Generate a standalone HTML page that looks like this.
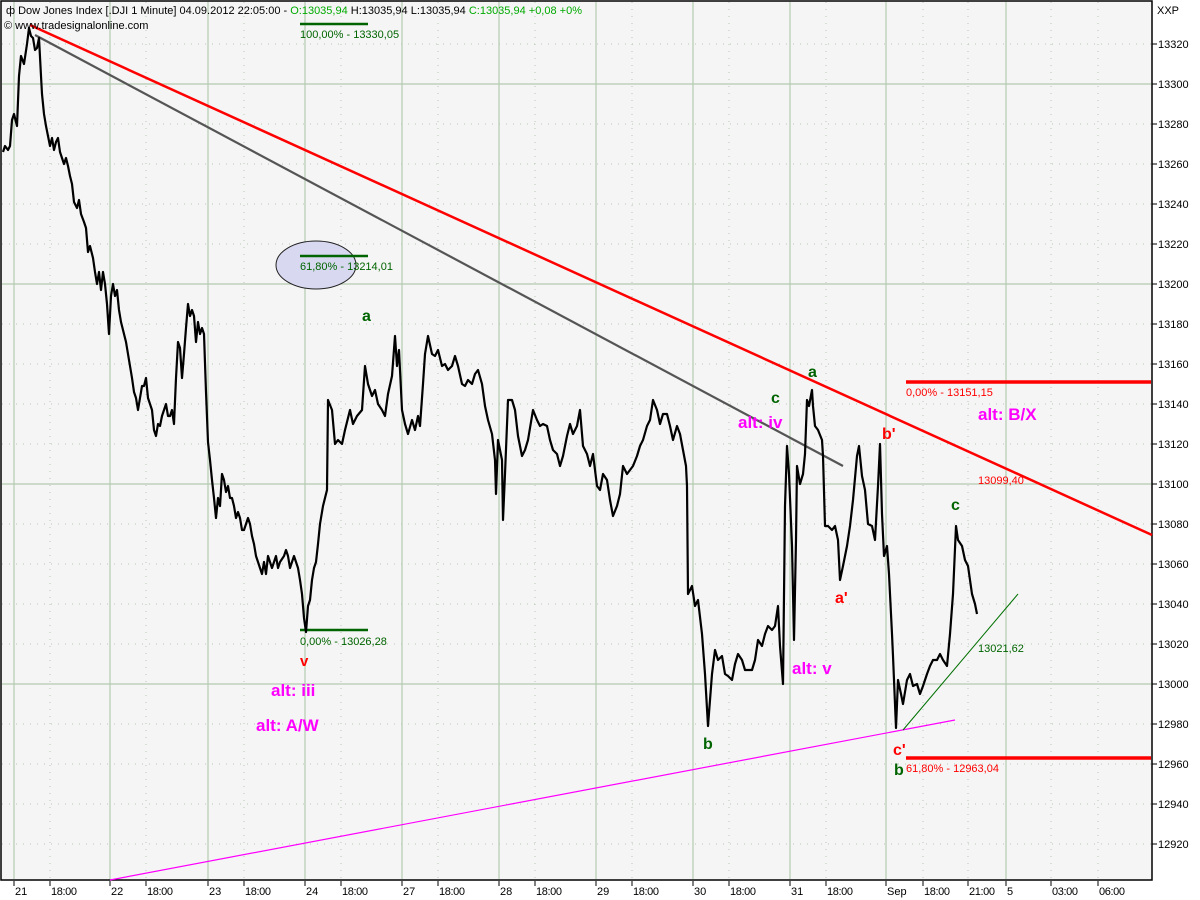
<!DOCTYPE html>
<html><head><meta charset="utf-8"><style>
html,body{margin:0;padding:0;background:#fff;}
svg{display:block;font-family:"Liberation Sans",sans-serif;}
</style></head><body>
<svg id="chart" width="1200" height="900" viewBox="0 0 1200 900" xmlns="http://www.w3.org/2000/svg">
<rect x="1" y="1" width="1151" height="879" fill="#f5f5f5" stroke="#000" stroke-width="1.5"/>
<g id="grid"></g>
<g id="axes"></g>
<g id="annot"></g>
<path id="price" fill="none" stroke="#000" stroke-width="2.2" stroke-linejoin="round"/>
<g id="labels"></g>
<text x="6" y="14" font-size="11">ф Dow Jones Index [.DJI  1 Minute] 04.09.2012 22:05:00 - <tspan fill="#00aa00">O:13035,94</tspan> H:13035,94 L:13035,94 <tspan fill="#00aa00">C:13035,94 +0,08 +0%</tspan></text>
<text x="4" y="29" font-size="11">© www.tradesignalonline.com</text>
<text x="1157" y="14" font-size="11">XXP</text>
</svg>
<script>
const priceTimes=[0,8,20,28,36,44,56,64,72,84,96,104,112,120,128,136,144,152,156,164,172,180,188,196,204,212,220,228,236,244,252,260,268,276,284,296,304,312,324,332,340,348,360,368,376,384,392,400,408,416,424,432,440,448,456,464,472,484,492,500,508,516,524,532,540,548,556,564,572,580,588,596,604,612,620,628,636,644,652,660,668,676,684,692,700,708,716,724,732,740,748,756,764,772,780,788,796,804,812,820,828,836,844,852,860,868,876,884,892,900,908,916,924,932,940,948,956,964,972,980,988,996,1004,1012,1020,1028,1036,1044,1052,1060,1068,1076,1084,1092,1100,1108,1124,1132,1140,1148,1156,1164,1172,1180,1188,1196,1204,1212,1220,1228,1236,1244,1252,1260,1268,1280,1296,1300,1316,1328,1340,1356,1368,1388,1400,1416,1436,1448,1460,1476,1488,1500,1516,1528,1540,1556,1568,1576,1584,1596,1608,1620,1636,1648,1660,1668,1680,1688,1700,1716,1728,1740,1756,1768,1780,1796,1808,1820,1836,1848,1860,1876,1888,1900,1916,1928,1940,1956,1968,1972,1980,1996,2000,2008,2020,2036,2048,2060,2076,2088,2100,2120,2136,2148,2160,2176,2188,2200,2216,2228,2240,2256,2268,2280,2296,2308,2320,2336,2348,2360,2376,2388,2400,2416,2428,2440,2456,2468,2480,2496,2508,2520,2536,2548,2560,2576,2588,2600,2616,2628,2640,2656,2668,2680,2696,2708,2720,2732,2736,2740,2756,2768,2780,2796,2808,2820,2836,2848,2860,2876,2888,2900,2916,2928,2940,2956,2968,2980,2996,3008,3020,3036,3048,3060,3076,3088,3100,3108,3120,3128,3136,3144,3156,3164,3172,3176,3188,3200,3208,3216,3224,3236,3240,3248,3260,3276,3280,3288,3300,3316,3328,3340,3348,3360,3376,3388,3400,3416,3424,3436,3448,3460,3476,3488,3500,3508,3516,3524,3536,3544,3556,3560,3572,3580,3592,3600,3616,3628,3640,3656,3668,3680,3696,3708,3720,3736,3748,3760,3776,3788,3800,3812,3820,3836,3848,3860,3876,3888,3896];
const priceValues=[13266,13269,13267,13269,13282,13285,13279,13304,13314,13310,13320,13328,13324,13323,13317,13318,13323,13304,13295,13285,13279,13274,13269,13273,13267,13271,13273,13266,13263,13260,13263,13259,13254,13250,13241,13238,13242,13235,13231,13228,13216,13219,13213,13206,13200,13206,13197,13206,13200,13190,13175,13194,13200,13194,13197,13187,13181,13175,13171,13165,13159,13153,13146,13143,13137,13143,13149,13149,13153,13143,13140,13137,13127,13124,13130,13129,13134,13137,13140,13134,13134,13137,13130,13153,13171,13168,13153,13165,13178,13190,13184,13187,13184,13171,13181,13175,13178,13175,13146,13121,13112,13102,13093,13083,13093,13089,13105,13102,13096,13099,13093,13093,13089,13083,13086,13083,13077,13077,13080,13083,13080,13074,13070,13064,13061,13058,13055,13061,13055,13064,13061,13058,13061,13064,13058,13061,13064,13067,13064,13058,13061,13064,13061,13058,13052,13045,13033,13026,13039,13042,13052,13058,13061,13070,13080,13089,13097,13142,13137,13120,13122,13120,13127,13137,13130,13134,13137,13159,13150,13144,13147,13140,13137,13134,13145,13154,13174,13159,13167,13137,13130,13125,13132,13127,13134,13129,13150,13165,13174,13165,13164,13167,13159,13160,13157,13159,13164,13159,13150,13149,13152,13150,13155,13157,13150,13139,13132,13125,13112,13095,13122,13112,13082,13105,13142,13142,13137,13124,13114,13117,13122,13137,13132,13129,13130,13129,13122,13117,13115,13109,13114,13124,13130,13125,13129,13137,13119,13115,13109,13115,13099,13097,13105,13102,13092,13084,13089,13095,13109,13105,13107,13109,13114,13119,13122,13129,13132,13142,13137,13130,13135,13135,13129,13122,13129,13125,13117,13109,13099,13045,13049,13039,13042,13025,13005,12979,13005,13017,13012,13014,13005,13004,13002,13010,13015,13012,13007,13007,13007,13012,13022,13019,13025,13029,13027,13029,13039,13019,13000,13089,13119,13105,13069,13022,13072,13109,13100,13105,13115,13142,13139,13147,13139,13129,13127,13122,13114,13079,13079,13077,13079,13072,13052,13059,13069,13079,13092,13114,13119,13104,13097,13080,13079,13072,13099,13120,13085,13064,13069,13055,13025,13014,12978,13002,12995,12990,13002,13005,12999,13000,12995,12999,13005,13009,13012,13012,13015,13012,13009,13025,13045,13079,13072,13069,13062,13059,13045,13040,13035];
const yTickValues=[12920,12940,12960,12980,13000,13020,13040,13060,13080,13100,13120,13140,13160,13180,13200,13220,13240,13260,13280,13300,13320];
const xTickLabels=["21","18:00","22","18:00","23","18:00","24","18:00","27","18:00","28","18:00","29","18:00","30","18:00","31","18:00","Sep","18:00","21:00","5","03:00","06:00"];
const xTickTimes=[44,188,428,572,820,964,1208,1352,1596,1740,1984,2128,2372,2516,2760,2904,3148,3292,3532,3680,3860,4012,4192,4380];
const xTickMajor=[1,0,1,0,1,0,1,0,1,0,1,0,1,0,1,0,1,0,1,0,0,1,0,0];

const NS="http://www.w3.org/2000/svg";
const xS=t=>3+t/4;
const yS=v=>284-(v-13200)*2;
function mk(tag,attrs,parent){const e=document.createElementNS(NS,tag);for(const k in attrs)e.setAttribute(k,attrs[k]);parent.appendChild(e);return e;}
const grid=document.getElementById('grid'),axes=document.getElementById('axes');
yTickValues.forEach(v=>{
  const y=yS(v),major=v%100===0;
  const gl=mk('line',{x1:2,x2:1151,y1:y,y2:y,stroke:major?'#b4cbb0':'#b8c8b8','stroke-width':major?1.2:1,'stroke-dasharray':major?'none':'1,6'},grid);
  
  
  const tk=mk('line',{x1:1152,x2:1157,y1:y,y2:y,stroke:'#000'},axes);
  
  
  const tx=mk('text',{x:1158,y:y+4,'font-size':11},axes);tx.textContent=v;
  
  
});
xTickTimes.forEach((t,i)=>{
  const x=xS(t);
  if(x<1151){
    const gl=mk('line',{x1:x,x2:x,y1:2,y2:879,stroke:xTickMajor[i]?'#b4cbb0':'#b8c8b8','stroke-width':xTickMajor[i]?1.2:1,'stroke-dasharray':xTickMajor[i]?'none':'1,6'},grid);
    
    
  }
  const tk=mk('line',{x1:x,x2:x,y1:881,y2:886,stroke:'#000'},axes);
  
  
  const tx=mk('text',{x:x+1,y:895,'font-size':11},axes);
  if(xTickLabels[i].length>3)tx.setAttribute('textLength',26);
  tx.textContent=xTickLabels[i];
  
  
});
document.getElementById('price').setAttribute('d',priceTimes.map((t,i)=>(i?'L':'M')+xS(t).toFixed(1)+','+yS(priceValues[i]).toFixed(1)).join(''));

const annot=document.getElementById('annot');
function line(x1,y1,x2,y2,c,w,name){const l=mk('line',{x1,y1,x2,y2,stroke:c,'stroke-width':w},annot);}
line(110,880,955,720,'#ff00ff',1.2,'magenta-support-line');
line(903,730,1018,594,'#007000',1,'green-trend-line');
line(35,35,843,466,'#555',2.2,'gray-trend-line');
line(30,25,1152,535,'#ff0000',2.5,'red-resistance-line');
line(906,382,1151,382,'#ff0000',3.5,'fib-0-red-line');
line(906,758,1151,758,'#ff0000',3.5,'fib-618-red-line');
const el=mk('ellipse',{cx:316,cy:265,rx:40,ry:24,fill:'#d8d8f0',stroke:'#222','stroke-width':1},annot);


line(300,24,368,24,'#006400',2.5,'fib-100-green-line');
line(300,256,368,256,'#006400',2.5,'fib-618-green-line');
line(300,630,368,630,'#006400',2.5,'fib-0-green-line');

const labels=document.getElementById('labels');
function lab(x,y,txt,c,size,bold,name){const t=mk('text',{x,y,fill:c,'font-size':size,'font-weight':bold?'bold':'normal'},labels);t.textContent=txt;}
lab(300,38,'100,00% - 13330,05','#006400',11,0,'fib-100-label');
lab(300,270,'61,80% - 13214,01','#006400',11,0,'fib-618-label');
lab(300,645,'0,00% - 13026,28','#006400',11,0,'fib-0-label');
lab(362,321,'a','#006400',16,1,'wave-a-label');
lab(300,666,'v','#ff0000',15,1,'wave-v-label');
lab(271,696,'alt: iii','#ff00ff',17,1,'alt-iii-label');
lab(256,731,'alt: A/W','#ff00ff',17,1,'alt-aw-label');
lab(703,749,'b','#006400',16,1,'wave-b-label');
lab(771,403,'c','#006400',16,1,'wave-c-label');
lab(738,428,'alt: iv','#ff00ff',17,1,'alt-iv-label');
lab(808,377,'a','#006400',16,1,'wave-a2-label');
lab(835,603,"a'",'#ff0000',16,1,'wave-a-prime-label');
lab(792,674,'alt: v','#ff00ff',17,1,'alt-v-label');
lab(882,439,"b'",'#ff0000',16,1,'wave-b-prime-label');
lab(906,396,'0,00% - 13151,15','#ff0000',11,0,'fib-0-red-label');
lab(978,420,'alt: B/X','#ff00ff',17,1,'alt-bx-label');
lab(978,484,'13099,40','#ff0000',11,0,'red-line-value-label');
lab(951,510,'c','#006400',16,1,'wave-c2-label');
lab(978,652,'13021,62','#006400',11,0,'green-line-value-label');
lab(893,755,"c'",'#ff0000',16,1,'wave-c-prime-label');
lab(894,775,'b','#006400',16,1,'wave-b2-label');
lab(906,772,'61,80% - 12963,04','#ff0000',11,0,'fib-618-red-label');
</script>
</body></html>
